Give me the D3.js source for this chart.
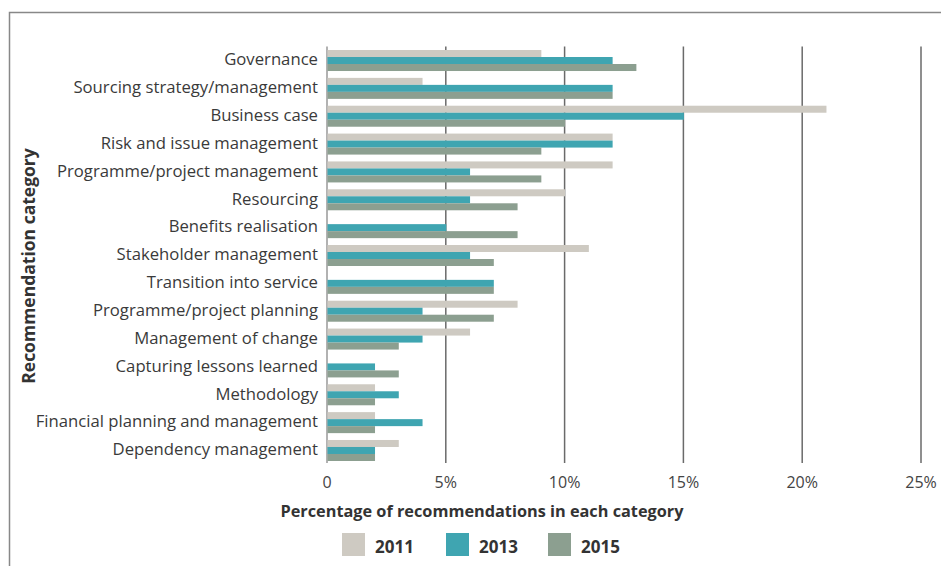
<!DOCTYPE html>
<html>
<head>
<meta charset="utf-8">
<script src="https://cdn.jsdelivr.net/npm/d3@7"></script>
<style>
html,body{margin:0;padding:0;background:#fff;}
svg{display:block;font-family:"Open Sans",sans-serif;}
</style>
</head>
<body>
<svg id="chart" width="941" height="566"></svg>
<script>
const categories = ["Governance","Sourcing strategy/management","Business case","Risk and issue management","Programme/project management","Resourcing","Benefits realisation","Stakeholder management","Transition into service","Programme/project planning","Management of change","Capturing lessons learned","Methodology","Financial planning and management","Dependency management"];
const years = ["2011","2013","2015"];
const values2011 = [9,4,21,12,12,10,0,11,0,8,6,0,2,2,3];
const values2013 = [12,12,15,12,6,6,5,6,7,4,4,2,3,4,2];
const values2015 = [13,12,10,9,9,8,8,7,7,7,3,3,2,2,2];
const xTicks = [0,5,10,15,20,25];
const colors = ["#cecac2","#3fa5b1","#8c9f90"];

const series = [values2011, values2013, values2015];
const svg = d3.select("#chart");

// frame
svg.append("path").attr("d","M9.5,566 L9.5,12.5 L941,12.5").attr("fill","none").attr("stroke","#888").attr("stroke-width",1.5);

const x = d3.scaleLinear().domain([0,25]).range([327,921]);
const y = d3.scaleBand().domain(categories).range([46,465]).paddingInner(0.246).paddingOuter(0.144);
const yy = d3.scaleBand().domain(years).range([0,y.bandwidth()]);

// gridlines
svg.append("g").selectAll("line").data(xTicks).join("line")
  .attr("x1",d=>x(d)).attr("x2",d=>x(d)).attr("y1",46.5).attr("y2",463)
  .attr("stroke",d=>d===0?"#999":"#6a6a6a").attr("stroke-width",1.5);

// bars
const g = svg.append("g");
years.forEach((yr,i)=>{
  g.selectAll(".b"+yr).data(categories).join("rect")
    .attr("x",x(0)+0.5)
    .attr("y",d=>y(d)+yy(yr))
    .attr("width",(d,j)=>Math.max(0,x(series[i][j])-x(0)))
    .attr("height",yy.bandwidth())
    .attr("fill",colors[i]);
});

// category labels
svg.append("g").selectAll("text").data(categories).join("text")
  .attr("x",318).attr("y",d=>y(d)+y.bandwidth()/2-1)
  .attr("dy","0.35em").attr("text-anchor","end")
  .attr("font-size",16.7).attr("fill","#3a3a3a").text(d=>d);

// x tick labels
svg.append("g").selectAll("text").data(xTicks).join("text")
  .attr("x",d=>x(d)).attr("y",488).attr("text-anchor","middle")
  .attr("font-size",16).attr("fill","#444").text(d=>d===0?"0":d+"%");

// axis titles
svg.append("text").attr("x",482).attr("y",517).attr("text-anchor","middle")
  .attr("font-size",16.3).attr("font-weight","bold").attr("fill","#333")
  .text("Percentage of recommendations in each category");
svg.append("text").attr("transform","translate(35,266) rotate(-90)").attr("text-anchor","middle")
  .attr("font-size",17.5).attr("font-weight","bold").attr("fill","#333")
  .text("Recommendation category");

// legend
const legX = [342,446,548];
const lg = svg.append("g");
years.forEach((yr,i)=>{
  lg.append("rect").attr("x",legX[i]).attr("y",533).attr("width",23).attr("height",23).attr("fill",colors[i]);
  lg.append("text").attr("x",legX[i]+33).attr("y",553).attr("font-size",17).attr("font-weight","bold").attr("fill","#333").text(yr);
});
</script>
</body>
</html>
